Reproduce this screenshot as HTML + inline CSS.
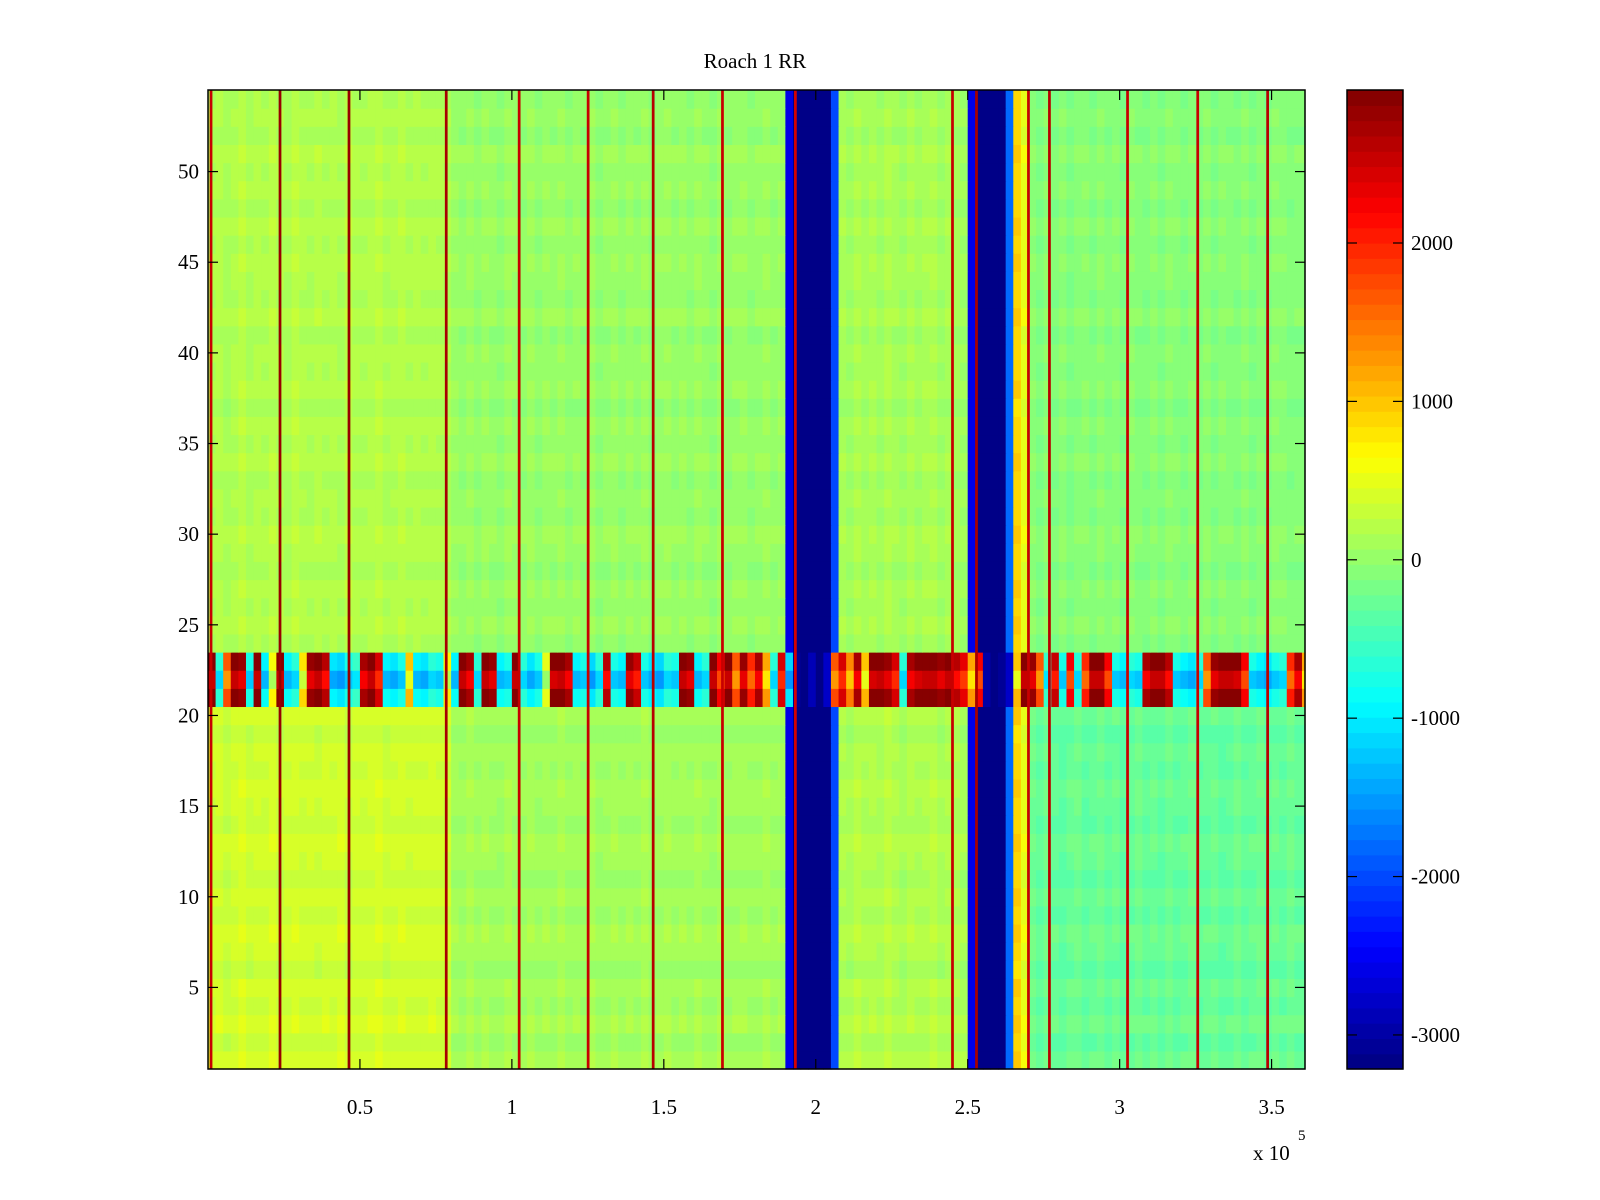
<!DOCTYPE html>
<html><head><meta charset="utf-8"><style>
html,body{margin:0;padding:0;background:#fff;}
svg{display:block;font-family:"Liberation Serif",serif;}
</style></head><body>
<svg id="fig" width="1600" height="1200" xmlns="http://www.w3.org/2000/svg">
<rect width="1600" height="1200" fill="#fff"/>
<g id="heat"></g>
<g id="cbar"></g>
<g id="axes"></g>
<text x="755" y="68" text-anchor="middle" font-size="21">Roach 1 RR</text>
<text x="1253" y="1160" font-size="21">x 10</text>
<text x="1298" y="1140" font-size="15">5</text>
</svg>
<script>
// ---- data ----
const xMin = 0, xMax = 361000, binWidth = 2500;
const yMin = 0.5, yMax = 54.5, rowCount = 54;
const cMin = -3215, cMax = 2966;
const bandRows = [21, 22, 23];
const bandRowOffset = [250, -250, 200];
// column profile for rows above the band (24-54)
const colUpper = [
 160,200,120,180,240,140,200,160,220,180,140,240,190,150,210,170,200,140,230,180,
 160,200,240,150,190,220,170,200,160,190,180,150,
 40,10,70,0,50,20,-20,60,30,10,50,-10,40,20,70,0,30,10,60,-20,
 20,50,0,40,10,70,-10,30,50,10,40,0,60,20,-20,50,10,30,40,0,
 20,60,10,40,-2600,
 -3200,-3200,-3200,-3200,-3200,-2000,
 120,70,170,100,140,80,180,110,60,150,90,130,170,70,120,100,60,-2600,
 -3200,-3200,-3200,-3200,-1800,900,500,
 -60,-120,-20,-100,-40,-140,-70,-50,-110,-30,-90,-60,-130,-40,-80,-100,-50,-120,-20,-70,
 -110,-60,-90,-40,-130,-50,-80,-100,-30,-120,-70,-110,-40,-60,-90,-80
];
// column profile for rows below the band (1-20)
const colLower = [
 340,380,300,360,410,320,370,340,400,310,350,390,330,370,320,380,350,400,310,360,
 340,380,410,320,360,390,330,370,350,380,360,330,
 100,70,130,60,110,80,40,120,90,70,110,50,100,80,130,60,90,70,120,40,
 80,110,60,100,70,130,50,90,110,70,100,60,120,80,40,110,70,90,100,60,
 80,120,70,100,-2600,
 -3200,-3200,-3200,-3200,-3200,-2000,
 170,120,220,150,190,130,230,160,110,200,140,180,220,120,170,150,110,-2600,
 -3200,-3200,-3200,-3200,-1800,900,500,
 -250,-310,-230,-290,-350,-270,-220,-330,-280,-240,-310,-260,-350,-290,-230,-300,-270,-340,-250,-310,
 -280,-240,-320,-290,-260,-350,-300,-230,-310,-280,-250,-320,-270,-300,-240,-290
];
// tri-row band (rows 21-23)
const bandValues = [
 2800,-900,1500,2800,2600,-1000,2800,-1100,400,2800,-1100,-900,600,2600,2800,2400,-1200,-1300,-1000,-800,
 2500,2800,2200,-1100,-1200,-1000,800,-1100,-1200,-900,-1000,500,-1100,2800,2500,-900,2800,2600,-1100,-1000,
 2800,-900,-1200,-1000,300,2700,2800,2500,-1100,-1000,-1300,-900,2400,-1000,-1100,2600,2300,-1000,-1200,-1300,
 -900,-1000,2800,2600,-1100,-900,2800,2000,2800,1500,2600,1800,2500,1000,-900,2200,-1300,-3100,-3200,-2900,
 -3200,-2800,1500,2200,1200,2500,800,2700,2800,2600,2200,-900,2500,2700,2800,2800,2600,2800,2400,2100,
 1000,2000,-3000,-3200,-3100,-2800,800,2800,2600,1500,-800,2300,-1000,2000,-900,1800,2800,2800,2000,-1000,
 -1100,-900,-1000,2500,2800,2800,2400,-1000,-1100,-1200,-900,1500,2600,2800,2800,2700,2000,-1000,-1100,-1200,
 -1000,-900,1800,2500,1000
];
// small per-row offsets (rows 1..54)
const rowOffsets = [
 60,-40,80,-20,50,-60,30,70,-30,40,-50,20,60,-40,10,50,-20,30,-60,40,
 0,0,0,
 -30,50,-10,40,-50,20,60,-30,10,-40,50,-20,30,-60,40,-10,20,-50,60,-30,10,
 40,-20,50,-40,30,-10,60,-50,20,-30
];
// vertical spike lines (x positions, values)
const spikeX = [1000,23700,46400,78400,102400,125100,146500,169300,193300,245000,252900,270000,276900,302600,325700,348700];
const spikeVal = [2500,2800,2800,2700,2500,2500,2600,2500,2400,2500,2700,2500,2600,2500,2500,2600];
const xTicks = [0.5,1,1.5,2,2.5,3,3.5];
const xTickLabels = ["0.5","1","1.5","2","2.5","3","3.5"];
const yTicks = [5,10,15,20,25,30,35,40,45,50];
const yTickLabels = ["5","10","15","20","25","30","35","40","45","50"];
const cTicks = [-3000,-2000,-1000,0,1000,2000];
const cTickLabels = ["-3000","-2000","-1000","0","1000","2000"];

// ---- layout ----
const L=208,R=1305,T=90,B=1069;
const sx = v => L + (v - xMin) / (xMax - xMin) * (R - L);
const sy = v => B - (v - yMin) / (yMax - yMin) * (B - T);
const CL=1347,CR=1403;
const sc = v => B - (v - cMin) / (cMax - cMin) * (B - T);
const NS="http://www.w3.org/2000/svg";
function jet(v){
  let t=(v-cMin)/(cMax-cMin); if(!isFinite(t)) t=0.5; t=Math.max(0,Math.min(1,t));
  t=(Math.min(63,Math.floor(t*64))+0.5)/64;
  const f=x=>Math.round(255*Math.max(0,Math.min(1,x)));
  return `rgb(${f(1.5-Math.abs(4*t-3))},${f(1.5-Math.abs(4*t-2))},${f(1.5-Math.abs(4*t-1))})`;
}
function mk(tag,attrs,parent){const e=document.createElementNS(NS,tag);for(const k in attrs)e.setAttribute(k,attrs[k]);parent.appendChild(e);return e;}
const val=(a,i)=>a[Math.min(i,a.length-1)]||0;

const heat=document.getElementById('heat');
const nb=Math.ceil((xMax-xMin)/binWidth);
for(let r=1;r<=rowCount;r++){
  const y0=sy(r+0.5), y1=sy(r-0.5);
  const bi=bandRows.indexOf(r);
  for(let c=0;c<nb;c++){
    const xa=sx(c*binWidth), xb=Math.min(R,sx((c+1)*binWidth));
    if(xa>=R) break;
    let v;
    const bv=val(bandValues,c), cu=val(colUpper,c);
    if(bi>=0) v=bv+(bv>-2500?bandRowOffset[bi]:0);
    else v=(r>bandRows[bandRows.length-1]?cu:val(colLower,c))+(Math.abs(cu)<1000?(rowOffsets[r-1]||0):0);
    const el=mk('rect',{x:xa.toFixed(2),y:y0.toFixed(2),width:(xb-xa+0.6).toFixed(2),height:(y1-y0+0.6).toFixed(2),fill:jet(v)},heat);
    
    
  }
}
for(let i=0;i<spikeX.length;i++){
  const xa=sx(spikeX[i]-450), xb=sx(spikeX[i]+450);
  const el=mk('rect',{x:xa.toFixed(2),y:T,width:(xb-xa).toFixed(2),height:B-T,fill:jet(spikeVal[i])},heat);
  
  
}
// colorbar
const cbar=document.getElementById('cbar');
for(let i=0;i<64;i++){
  const v0=cMin+(cMax-cMin)*i/64, v1=cMin+(cMax-cMin)*(i+1)/64;
  const el=mk('rect',{x:CL,y:sc(v1).toFixed(2),width:CR-CL,height:(sc(v0)-sc(v1)+0.6).toFixed(2),fill:jet((v0+v1)/2)},cbar);
  
  
}
const cf=mk('rect',{x:CL,y:T,width:CR-CL,height:B-T,fill:'none',stroke:'#000','stroke-width':1.5},cbar);


cTicks.forEach((v,i)=>{
  const y=sc(v);
  mk('line',{x1:CL,x2:CL+10,y1:y,y2:y,stroke:'#000','stroke-width':1.2},cbar);
  mk('line',{x1:CR-10,x2:CR,y1:y,y2:y,stroke:'#000','stroke-width':1.2},cbar);
  const t=mk('text',{x:CR+8,y:y+7,'font-size':21},cbar);
  t.textContent=cTickLabels[i];
  
  
});
// axes
const ax=document.getElementById('axes');
const fr=mk('rect',{x:L,y:T,width:R-L,height:B-T,fill:'none',stroke:'#000','stroke-width':1.5},ax);


xTicks.forEach((v,i)=>{
  const x=sx(v*1e5);
  mk('line',{x1:x,x2:x,y1:B,y2:B-10,stroke:'#000','stroke-width':1.2},ax);
  mk('line',{x1:x,x2:x,y1:T,y2:T+10,stroke:'#000','stroke-width':1.2},ax);
  const t=mk('text',{x:x,y:B+45,'text-anchor':'middle','font-size':21},ax);
  t.textContent=xTickLabels[i];
  
  
});
yTicks.forEach((v,i)=>{
  const y=sy(v);
  mk('line',{x1:L,x2:L+10,y1:y,y2:y,stroke:'#000','stroke-width':1.2},ax);
  mk('line',{x1:R-10,x2:R,y1:y,y2:y,stroke:'#000','stroke-width':1.2},ax);
  const t=mk('text',{x:L-9,y:y+7,'text-anchor':'end','font-size':21},ax);
  t.textContent=yTickLabels[i];
  
  
});
</script>
</body></html>
